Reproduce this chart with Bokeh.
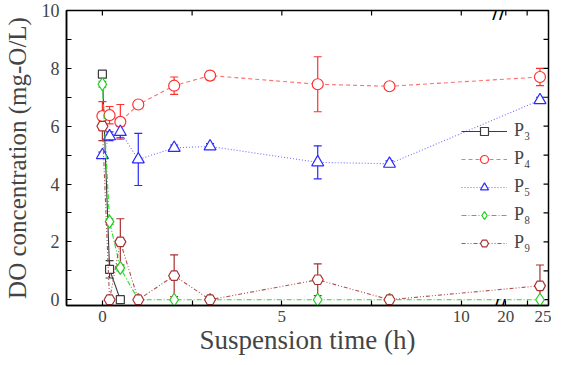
from bokeh.plotting import figure
from bokeh.models import (Range1d, FixedTicker, ColumnDataSource, Whisker,
                          TeeHead, Legend, LegendItem, Label)
from bokeh.embed import file_html
from bokeh.resources import INLINE

# ---------------- data ----------------
time_h = [0, 0.2, 0.5, 1, 2, 3, 6, 8, 24]
p3_time = [0, 0.2, 0.5]
p3_do = [7.8, 1.05, 0.0]
p3_err = [0.1, 0.3, 0.05]
p4_do = [6.35, 6.38, 6.15, 6.75, 7.4, 7.75, 7.45, 7.38, 7.7]
p4_err = [0.5, 0.3, 0.6, 0.12, 0.3, 0.15, 0.95, 0.05, 0.3]
p5_do = [5.0, 5.65, 5.8, 4.85, 5.25, 5.3, 4.75, 4.7, 6.9]
p5_err = [0.1, 0.15, 0.2, 0.9, 0.1, 0.1, 0.57, 0.1, 0.1]
p8_do = [7.45, 2.7, 1.1, 0, 0, 0, 0, 0, 0]
p8_err = [0.1, 0.1, 0.1, 0, 0, 0, 0, 0, 0]
p9_do = [6.0, 0.0, 2.0, 0.0, 0.83, 0.0, 0.69, 0.0, 0.48]
p9_err = [0.5, 0.05, 0.8, 0.05, 0.72, 0.05, 0.55, 0.05, 0.72]

x_ticks = [0, 5, 10, 20, 25]
x_minor = [2.5, 7.5, 22.5]
y_ticks = [0, 2, 4, 6, 8, 10]
y_minor = [1, 3, 5, 7, 9]

# broken x axis: 0..11.05 linear, then 19.2..25 compressed
BREAK_LO = 11.05
BREAK_HI = 19.2
SCALE2 = 0.238


def disp(x):
    return x if x <= BREAK_LO else BREAK_LO + (x - BREAK_HI) * SCALE2


SERIF = "Liberation Serif"
X0, X1 = -1.0, disp(25)
Y0, Y1 = -0.2, 10.0

p = figure(width=551, height=357, output_backend="svg", toolbar_location=None,
           x_range=Range1d(X0, X1), y_range=Range1d(Y0, Y1),
           min_border_left=63, min_border_right=3, min_border_top=10, min_border_bottom=52)
p.xgrid.visible = False
p.ygrid.visible = False
p.outline_line_color = "black"
p.outline_line_width = 1.5
p.background_fill_color = "white"

xt = FixedTicker(ticks=[disp(t) for t in x_ticks], minor_ticks=[disp(t) for t in x_minor])
yt = FixedTicker(ticks=y_ticks, minor_ticks=y_minor)
x_over = {disp(t): str(t) for t in x_ticks}


def style_axis(ax):
    ax.axis_line_color = "black"
    ax.axis_line_width = 1.5
    ax.major_tick_in = 5
    ax.major_tick_out = 0
    ax.minor_tick_in = 5
    ax.minor_tick_out = 0
    ax.major_tick_line_width = 1.2
    ax.minor_tick_line_width = 1.2
    ax.major_label_text_font = SERIF
    ax.axis_label_text_font = SERIF
    ax.axis_label_text_font_style = "normal"


xa = p.xaxis[0]
xa.ticker = xt
xa.major_label_overrides = x_over
style_axis(xa)
xa.major_label_text_font_size = "17px"
xa.major_label_standoff = 5
xa.axis_label = "Suspension time (h)"
xa.axis_label_text_font_size = "27px"
xa.axis_label_standoff = 0

ya = p.yaxis[0]
ya.ticker = yt
style_axis(ya)
ya.major_label_text_font_size = "18px"
ya.major_label_standoff = 7
ya.axis_label = "DO concentration (mg-O/L)"
ya.axis_label_text_font_size = "25px"
ya.axis_label_standoff = 8

# mirrored inward ticks on top and right edges
tick_len_y = 5 * (Y1 - Y0) / 295.0
tick_len_x = 5 * (X1 - X0) / 485.0
top_x = [disp(t) for t in x_ticks + x_minor]
p.segment(x0=top_x, y0=[Y1] * len(top_x), x1=top_x, y1=[Y1 - tick_len_y] * len(top_x),
          line_color="black", line_width=1.2)
right_y = y_ticks + y_minor
p.segment(x0=[X1] * len(right_y), y0=right_y, x1=[X1 - tick_len_x] * len(right_y), y1=right_y,
          line_color="black", line_width=1.2)

series = [
    ("P\u2083", [disp(t) for t in p3_time], p3_do, p3_err, "#3c3c3c", "#3c3c3c", "solid", "square", 8),
    ("P\u2084", [disp(t) for t in time_h], p4_do, p4_err, "#ff3030", "#ff7070", "4 3", "circle", 11),
    ("P\u2085", [disp(t) for t in time_h], p5_do, p5_err, "#2a2aff", "#7070ff", "1 2", "triangle", 12),
    ("P\u2088", [disp(t) for t in time_h], p8_do, p8_err, "#22cc22", "#22dd22", "5 2 1 2", "diamond", 13),
    ("P\u2089", [disp(t) for t in time_h], p9_do, p9_err, "#a83030", "#b05050", "4 2 1 2 1 2", "hex", 11),
]

items = []
for name, xs, ys, es, col, lcol, dash, marker, size in series:
    src = ColumnDataSource(dict(x=xs, y=ys,
                                up=[v + e for v, e in zip(ys, es)],
                                lo=[v - e for v, e in zip(ys, es)]))
    w = Whisker(base="x", upper="up", lower="lo", source=src, line_color=col, line_width=1.2,
                upper_head=TeeHead(size=8, line_color=col, line_width=1.2),
                lower_head=TeeHead(size=8, line_color=col, line_width=1.2))
    p.add_layout(w)
    ln = p.line("x", "y", source=src, line_color=lcol, line_width=1.1, line_dash=dash)
    sc = p.scatter("x", "y", source=src, marker=marker, size=size, line_color=col,
                   fill_color="white", line_width=1.2)
    items.append(LegendItem(label=name, renderers=[ln, sc]))

legend = Legend(items=items, location=(395, 52), glyph_width=46, glyph_height=20, spacing=7,
                label_standoff=7, padding=0, margin=0, border_line_color=None,
                background_fill_alpha=0, label_text_font=SERIF, label_text_font_size="18px",
                label_height=20)
p.add_layout(legend)

# axis break marks
for yv in (Y0, Y1):
    p.add_layout(Label(x=BREAK_LO, y=yv, text="//", text_font="DejaVu Sans",
                       text_font_size="20px", text_align="center", text_baseline="middle",
                       text_color="black"))

open("out.html", "w").write(file_html(p, INLINE))
